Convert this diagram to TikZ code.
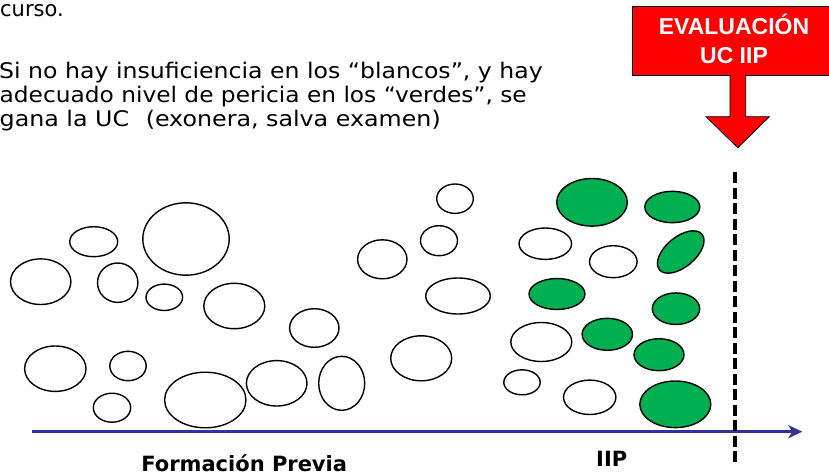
\documentclass[tikz,border=0pt]{standalone}
\usepackage{graphicx}
\usepackage{fontspec}
\setmainfont{DejaVu Sans}
\newfontfamily\arialfont{Liberation Sans}
\usetikzlibrary{shapes.geometric,arrows.meta}
\definecolor{ovgreen}{RGB}{0,176,80}
\definecolor{axisblue}{RGB}{51,51,153}
\definecolor{evred}{RGB}{255,0,0}
\tikzset{
  blob/.style={ellipse, draw=black, line width=1.4pt, inner sep=0pt, outer sep=0pt, fill=white},
  gblob/.style={blob, fill=ovgreen},
  bodytext/.style={anchor=base west, inner sep=0pt, font=\fontsize{21.5}{24}\selectfont},
  axislabel/.style={anchor=base, inner sep=0pt, font=\fontsize{21}{25}\selectfont\bfseries},
  evtext/.style={anchor=base, inner sep=0pt, text=white, font=\arialfont\fontsize{23}{29}\selectfont\bfseries},
}
\begin{document}
\begin{tikzpicture}[x=1pt,y=-1pt]
\clip (0,0) rectangle (829,476);
\fill[white] (0,0) rectangle (829,476);

% top text
\node[bodytext] (t0) at (0,16.7) {\resizebox{63.5pt}{\height}{curso.}};
\node[bodytext] (t1) at (-1,79) {\resizebox{543.5pt}{\height}{Si no hay insuficiencia en los “blancos”, y hay}};
\node[bodytext] (t2) at (-0.5,102.5) {\resizebox{527pt}{\height}{adecuado nivel de pericia en los “verdes”, se}};
\node[bodytext] (t3) at (-0.5,126.3) {\resizebox{441pt}{\height}{gana la UC\hspace{15pt}(exonera, salva examen)}};

% axis
\coordinate (a0) at (31.7,431.7);
\coordinate (a1) at (802.3,431.7);
\draw[axisblue, line width=3pt, -{Stealth[length=14pt,width=13pt,inset=4pt]}] (a0) -- (a1);

% dashed evaluation line
\coordinate (d0) at (735,172);
\coordinate (d1) at (735,466);
\draw[black, line width=3.5pt, dash pattern=on 11pt off 4.5pt] (d0) -- (d1);

% white blobs (formación previa)
\node[blob, minimum width=60.4pt, minimum height=45.6pt] (e1) at (40.7,281.7) {};
\node[blob, minimum width=48pt, minimum height=30pt] (e2) at (93.7,241.7) {};
\node[blob, minimum width=86.4pt, minimum height=72.4pt] (e3) at (186,239) {};
\node[blob, minimum width=40.4pt, minimum height=39.4pt] (e4) at (117.7,282.7) {};
\node[blob, minimum width=36.6pt, minimum height=26.4pt] (e5) at (164.3,297.3) {};
\node[blob, minimum width=61pt, minimum height=45.4pt] (e6) at (234.3,306) {};
\node[blob, minimum width=49.4pt, minimum height=39pt] (e7) at (382.3,259.3) {};
\node[blob, minimum width=49.4pt, minimum height=38.6pt] (e8) at (314.3,328) {};
\node[blob, minimum width=61.4pt, minimum height=45.4pt] (e9) at (55.3,368.7) {};
\node[blob, minimum width=36.4pt, minimum height=29.4pt] (e10) at (128,366) {};
\node[blob, minimum width=37.4pt, minimum height=29pt] (e11) at (112,407.7) {};
\node[blob, minimum width=81.4pt, minimum height=55.6pt] (e12) at (205.3,400) {};
\node[blob, minimum width=60.6pt, minimum height=45.4pt] (e13) at (276.7,383.3) {};
\node[blob, minimum width=46pt, minimum height=54pt] (e14) at (341.7,383.3) {};
\node[blob, minimum width=61pt, minimum height=45pt] (e15) at (421.2,358.3) {};
\node[blob, minimum width=36.6pt, minimum height=29.4pt] (e16) at (455,198.7) {};
\node[blob, minimum width=37pt, minimum height=30pt] (e17) at (439,240.7) {};
\node[blob, minimum width=64.6pt, minimum height=36pt] (e18) at (458,296) {};

% IIP blobs
\node[blob, minimum width=52.6pt, minimum height=31.4pt] (e19) at (545.3,243.7) {};
\node[gblob, minimum width=70.6pt, minimum height=47.6pt] (g20) at (592,202.3) {};
\node[gblob, minimum width=55pt, minimum height=31.4pt] (g21) at (672.3,207) {};
\node[blob, minimum width=47.6pt, minimum height=32pt] (e22) at (613.3,261.7) {};
\node[gblob, minimum width=55.4pt, minimum height=30pt, rotate=40] (g23) at (680.7,252) {};
\node[gblob, minimum width=56pt, minimum height=31pt] (g24) at (557,294) {};
\node[gblob, minimum width=47.4pt, minimum height=31.6pt] (g25) at (676,308.7) {};
\node[blob, minimum width=61pt, minimum height=39pt] (e26) at (541.3,342) {};
\node[gblob, minimum width=50.4pt, minimum height=32pt] (g27) at (607.3,334.3) {};
\node[gblob, minimum width=50pt, minimum height=32pt] (g28) at (659,354.7) {};
\node[blob, minimum width=36.4pt, minimum height=25pt] (e29) at (522,382.3) {};
\node[blob, minimum width=52.4pt, minimum height=34.4pt] (e30) at (589.7,397.3) {};
\node[gblob, minimum width=71pt, minimum height=46.6pt] (g31) at (675.3,404.3) {};

% axis labels
\node[axislabel] (fp) at (244.2,471.7) {Formación Previa};
\node[axislabel] (iip) at (611.7,466.7) {IIP};

% evaluation box and arrow
\node[draw=black, line width=0.8pt, fill=evred, minimum width=203.7pt, minimum height=68.3pt, inner sep=0pt] (box) at (734.2,40.9) {};
\node[evtext] (ev1) at (734,35) {EVALUACIÓN};
\node[evtext] (ev2) at (734,64) {UC IIP};
\draw[draw=black, line width=0.8pt, fill=evred]
  (730,75) -- (730,116.7) -- (706,116.7) -- (737.8,147.7) -- (769.3,116.7) -- (745.7,116.7) -- (745.7,75);
\end{tikzpicture}
\end{document}
